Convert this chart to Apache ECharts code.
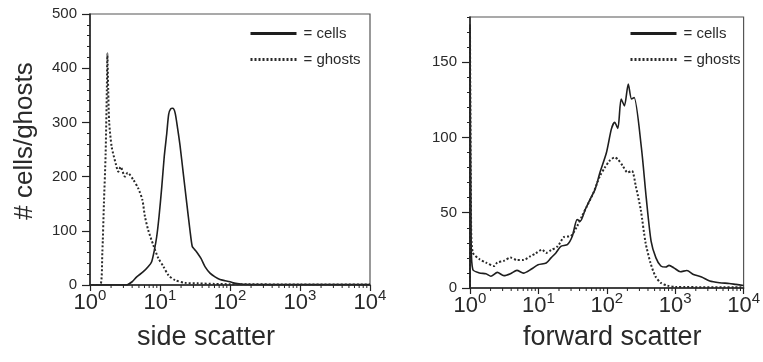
<!DOCTYPE html>
<html><head><meta charset="utf-8">
<script src="https://cdn.jsdelivr.net/npm/echarts@6/dist/echarts.min.js"></script>
<style>html,body{margin:0;padding:0;background:#fff}#c{width:763px;height:362px}</style>
</head><body><div id="c"></div>
<script>
// ---- left panel: side scatter ----
const sideCellsX = [1, 3.3, 4.0, 4.65, 5.77, 6.81, 7.6, 8.3, 8.97, 9.68, 10.6, 11.5, 12.5, 13.3, 14.2, 15.2, 16.4, 17.8, 19.3, 21.5, 24.1, 26.8, 28.9, 31, 33.4, 38.5, 43.9, 51.8, 61.1, 72, 85, 100, 120, 150, 300, 1000, 10000];
const sideCellsY = [0, 0, 6, 15, 24.5, 34, 43, 64, 89, 126, 181, 237, 280, 315, 325, 326, 318, 290, 258, 206, 151, 101, 71, 66, 61, 49, 34, 22, 15, 10, 8, 6, 3, 1.5, 1, 1, 1];
const sideGhostsX = [1, 1.39, 1.5, 1.58, 1.67, 1.74, 1.77, 1.82, 1.88, 2.04, 2.33, 2.54, 2.74, 3.16, 3.45, 4.16, 4.9, 5.6, 6.1, 6.8, 8.0, 9.5, 11.2, 13.2, 16.4, 22.8, 35, 60, 100, 1000, 10000];
const sideGhostsY = [0, 0, 60, 150, 240, 360, 427, 360, 300, 255, 224, 209, 218, 200, 207, 194, 178, 157, 126, 101, 74, 49, 34, 18, 9, 4, 3, 2, 1.5, 1, 1];
// ---- right panel: forward scatter ----
const fwdCellsX = [1, 1, 1.04, 1.1, 1.38, 1.71, 2.02, 2.51, 3.13, 3.9, 4.85, 6.04, 7.9, 9.9, 13, 15.3, 18, 21.3, 26.5, 31.3, 36.9, 41, 48.5, 57, 67.4, 79.4, 98.9, 116.6, 130, 145, 162, 181, 206, 230, 251, 320, 377, 444, 523, 617, 728, 812, 957, 1190, 1480, 1850, 2430, 3200, 4450, 6170, 7690, 10000];
const fwdCellsY = [0, 175, 30, 12.2, 10, 9.5, 7.8, 10.4, 8.2, 9.5, 11.7, 9.9, 12.6, 15.5, 16.6, 20, 23.3, 27.7, 28.8, 34.4, 45.5, 44.4, 52.2, 58.9, 65.5, 76.7, 90, 105.5, 110, 106, 125.5, 121, 135.5, 125.5, 126.5, 93.5, 60, 31.2, 20, 14.6, 13.9, 15, 13.4, 10.8, 11.6, 9, 7.3, 4.6, 3.5, 3, 2.4, 1.7];
const fwdGhostsX = [1, 1, 1.04, 1.1, 1.38, 1.71, 2.25, 2.51, 3.13, 3.9, 4.85, 6.04, 7.69, 9.06, 11.3, 13, 15.3, 19.1, 23.8, 29.6, 36.9, 43.5, 51.3, 63.8, 79.4, 93.6, 110, 130, 145, 171, 202, 233, 265, 313, 369, 435, 513, 617, 770, 1000, 10000];
const fwdGhostsY = [0, 175, 40, 23.5, 19.1, 16.9, 14.6, 16.9, 18, 20.2, 18.6, 18.6, 21.1, 22.9, 25.5, 23.3, 25.1, 27.7, 33.9, 34.4, 41.1, 47.8, 54.4, 63.3, 74.4, 80, 84.5, 86.7, 85.5, 81.1, 76.7, 77.8, 67.8, 52.2, 30, 16.7, 7.8, 3.4, 1.6, 0.7, 0.5];
// ---- ticks ----
const leftYTicks = [0, 100, 200, 300, 400, 500];
const rightYTicks = [0, 50, 100, 150];
const logMinor = [2,3,4,5,6,7,8,9,20,30,40,50,60,70,80,90,200,300,400,500,600,700,800,900,2000,3000,4000,5000,6000,7000,8000,9000];
const seriesNames = ['= cells', '= ghosts'];
const xTitles = ['side scatter', 'forward scatter'];
const yTitle = '# cells/ghosts';

const pairs = (xs, ys) => xs.map((x, i) => [x, ys[i]]);
const txt = '#2a2a2a';
const axisCol = '#222';
const FF = 'Liberation Sans';

function xAxes(gi) {
  return [{
    type: 'log', logBase: 10, min: 1, max: 10000, gridIndex: gi,
    axisLine: {show: true, lineStyle: {color: axisCol, width: 1.5}},
    axisTick: {show: true, length: 6, lineStyle: {color: axisCol, width: 1.2}},
    splitLine: {show: false},
    axisLabel: {
      margin: 3, color: txt,
      formatter: v => '{b|10}{s|' + Math.round(Math.log10(v)) + '}',
      rich: {
        b: {fontSize: 22, fontFamily: FF, color: txt, lineHeight: 26, verticalAlign: 'bottom'},
        s: {fontSize: 15, fontFamily: FF, color: txt, lineHeight: 14, verticalAlign: 'top'}
      }
    }
  }];
}
function yAxes(gi, max, major, minorInt) {
  return [{
    type: 'value', min: 0, max: max, gridIndex: gi, interval: major[1],
    axisLine: {show: true, lineStyle: {color: axisCol, width: 1.5}},
    axisTick: {show: true, length: 8, customValues: major, lineStyle: {color: axisCol, width: 1.2}},
    axisLabel: {customValues: major, margin: 13, fontSize: 15, fontFamily: FF, color: txt},
    splitLine: {show: false}
  }, {
    type: 'value', min: 0, max: max, gridIndex: gi, interval: minorInt, position: 'left',
    axisLine: {show: false},
    axisTick: {show: true, length: 3, lineStyle: {color: axisCol, width: 1}},
    axisLabel: {show: false},
    splitLine: {show: false}
  }];
}
function minorTickSeries(xi, yi) {
  return {
    type: 'custom', xAxisIndex: xi, yAxisIndex: yi, silent: true, clip: false,
    data: logMinor.map(v => [v, 0]),
    renderItem: (params, api) => {
      const p = api.coord([api.value(0), 0]);
      return {type: 'line', shape: {x1: p[0], y1: p[1], x2: p[0], y2: p[1] + 3},
        style: {stroke: axisCol, lineWidth: 1}};
    },
    tooltip: {show: false}
  };
}
const solid = {color: '#1e1e1e', width: 1.6, type: 'solid'};
const dotted = {color: '#2a2a2a', width: 2, type: [2, 2]};
function line(name, data, xi, yi, style) {
  return {name: name, type: 'line', xAxisIndex: xi, yAxisIndex: yi, data: data,
    symbol: 'none', smooth: 0.25, lineStyle: style, itemStyle: {color: style.color}, z: 3};
}

const chart = echarts.init(document.getElementById('c'), null, {renderer: 'canvas'});
chart.setOption({
  animation: false,
  backgroundColor: '#fff',
  grid: [
    {left: 90, right: 393, top: 14, bottom: 77, show: true, borderColor: '#555', borderWidth: 1.2, backgroundColor: 'transparent'},
    {left: 470, right: 12, top: 17, bottom: 74, show: true, borderColor: '#555', borderWidth: 1.2, backgroundColor: 'transparent'}
  ],
  xAxis: [...xAxes(0), ...xAxes(1)],
  yAxis: [...yAxes(0, 500, leftYTicks, 20), ...yAxes(1, 180, rightYTicks, 10)],
  legend: [0, 1].map(i => ({
    orient: 'vertical', left: i === 0 ? 244 : 624, top: 21, itemWidth: 46, itemHeight: 16, itemGap: 11,
    data: seriesNames.map(n => ({name: n})),
    textStyle: {fontSize: 15, fontFamily: FF, color: txt, padding: [0, 0, 0, 2]},
    lineStyle: {width: 3},
    itemStyle: {opacity: 0}
  })),
  series: [
    line(seriesNames[0], pairs(sideCellsX, sideCellsY), 0, 0, solid),
    line(seriesNames[1], pairs(sideGhostsX, sideGhostsY), 0, 0, dotted),
    line(seriesNames[0], pairs(fwdCellsX, fwdCellsY), 1, 2, solid),
    line(seriesNames[1], pairs(fwdGhostsX, fwdGhostsY), 1, 2, dotted),
    minorTickSeries(0, 0),
    minorTickSeries(1, 2)
  ],
  graphic: [
    {type: 'text', left: 137, top: 324, style: {text: xTitles[0], fontSize: 27, fontFamily: FF, fill: txt}},
    {type: 'text', left: 523, top: 324, style: {text: xTitles[1], fontSize: 27, fontFamily: FF, fill: txt}},
    {type: 'text', x: 25, y: 141, rotation: Math.PI / 2,
      style: {text: yTitle, fontSize: 26, fontFamily: FF, fill: txt, align: 'center', verticalAlign: 'middle'}}
  ]
});
</script>
</body></html>
